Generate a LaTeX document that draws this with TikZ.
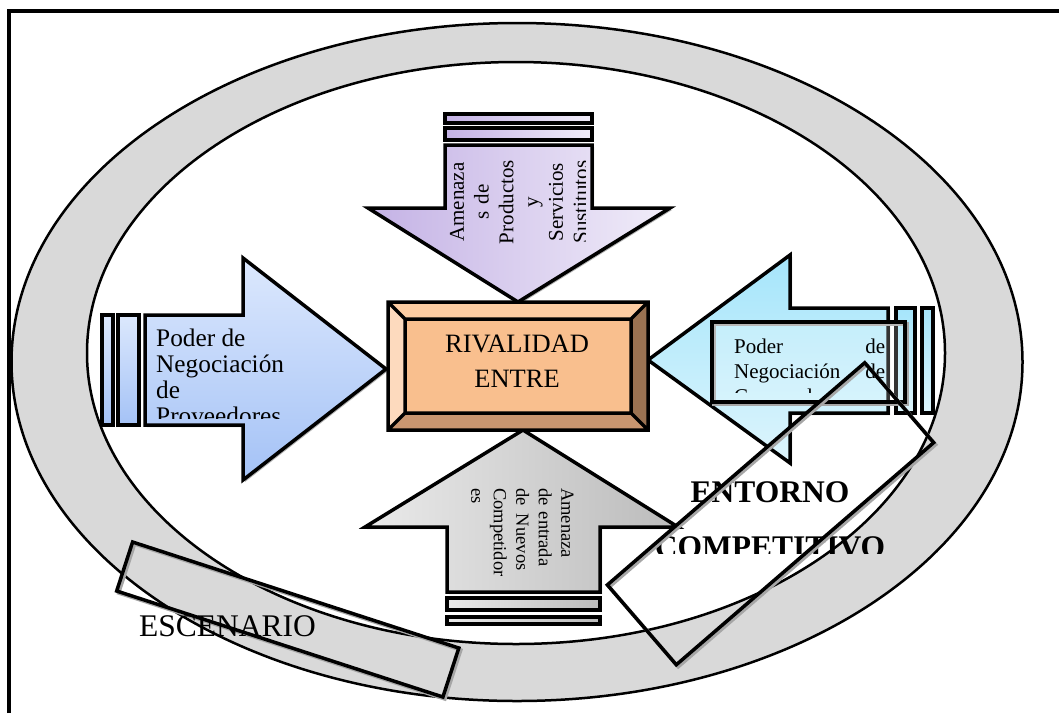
\documentclass[tikz,border=0pt]{standalone}
\usepackage{fontspec}
\setmainfont{Liberation Serif}
\usetikzlibrary{shadows}
\definecolor{ringgray}{HTML}{D9D9D9}
\definecolor{lila1}{HTML}{C4B2E5}
\definecolor{lila2}{HTML}{F1EDF9}
\definecolor{azul1}{HTML}{DCE8FD}
\definecolor{azul2}{HTML}{A4C2F6}
\definecolor{cian1}{HTML}{A5E5FB}
\definecolor{cian2}{HTML}{DDF5FC}
\definecolor{gris1}{HTML}{EAEAEA}
\definecolor{gris2}{HTML}{BBBBBB}
\definecolor{caraface}{HTML}{F9BF8E}
\definecolor{bevtop}{HTML}{FCCCA2}
\definecolor{bevleft}{HTML}{FDDABE}
\definecolor{bevright}{HTML}{9A7252}
\definecolor{bevbottom}{HTML}{C99670}
\tikzset{
  ring/.style={draw=black, line width=2.5pt},
  arrowshape/.style={draw=black, line width=3.5pt,
    drop shadow={shadow xshift=2pt, shadow yshift=-2pt, fill=black!30, opacity=1}},
  framebox/.style={draw=black, line width=3.5pt, inner sep=0pt,
    preaction={draw=black!35, line width=3.5pt, transform canvas={xshift=2pt, yshift=-2pt}}},
  txt/.style={inner sep=0pt, text=black},
}

\begin{document}
\begin{tikzpicture}[x=1pt, y=-1pt]
\useasboundingbox (0,0) rectangle (1059,713);
% marco
\draw[line width=4pt] (9,713) -- (9,10.5) -- (1059,10.5);
% anillo
\draw[ring, fill=ringgray] (517,362) ellipse [x radius=505.5pt, y radius=339pt];
\draw[ring, fill=white] (516,353) ellipse [x radius=429pt, y radius=291pt];

% flecha superior: sustitutos
\foreach \ya/\yb in {114/123, 128/140}
  \draw[arrowshape, left color=lila1, right color=lila2] (445,\ya) rectangle (592,\yb);
\draw[arrowshape, left color=lila1, right color=lila2]
  (445,145) -- (592,145) -- (592,208) -- (670,208) -- (518,302) -- (368,208) -- (445,208) -- cycle;

% flecha izquierda: proveedores
\foreach \xa/\xb in {102/113, 118/139}
  \draw[arrowshape, top color=azul1, bottom color=azul2] (\xa,315) rectangle (\xb,425);
\draw[arrowshape, top color=azul1, bottom color=azul2]
  (145,315) -- (243,315) -- (243,258) -- (386,369) -- (243,480) -- (243,425) -- (145,425) -- cycle;

% flecha derecha: compradores
\foreach \xa/\xb in {896/915, 922/933}
  \draw[arrowshape, top color=cian1, bottom color=cian2] (\xa,308) rectangle (\xb,413);
\draw[arrowshape, top color=cian1, bottom color=cian2]
  (888,308) -- (790,308) -- (790,255) -- (648,360) -- (790,463) -- (790,413) -- (888,413) -- cycle;

% flecha inferior: nuevos competidores
\foreach \ya/\yb in {598/610, 617/624}
  \draw[arrowshape, left color=gris1, right color=gris2] (447,\ya) rectangle (600,\yb);
\draw[arrowshape, left color=gris1, right color=gris2]
  (447,592) -- (447,527) -- (365,527) -- (523,430) -- (678,527) -- (600,527) -- (600,592) -- cycle;

% caja central
\fill[black!30] (390,304) rectangle (650,432);
\fill[bevtop] (388,302) -- (648,302) -- (631,319) -- (405,319) -- cycle;
\fill[bevleft] (388,302) -- (405,319) -- (405,413) -- (388,430) -- cycle;
\fill[bevright] (648,302) -- (648,430) -- (631,413) -- (631,319) -- cycle;
\fill[bevbottom] (388,430) -- (405,413) -- (631,413) -- (648,430) -- cycle;
\fill[caraface] (405,319) rectangle (631,413);
\draw[line width=3.5pt] (388,302) rectangle (648,430) (405,319) rectangle (631,413)
  (388,302) -- (405,319) (648,302) -- (631,319) (388,430) -- (405,413) (648,430) -- (631,413);
\node[txt, anchor=north, align=center, font={\fontsize{26.5}{35}\selectfont}] (rivalidad)
  at (517,334.5) {RIVALIDAD\\ENTRE};

% textos de las flechas
\begin{scope}
  \clip (440,150) rectangle (585,300);
  \node[txt, rotate=90, align=center, text width=95pt, font={\fontsize{21}{24.75}\selectfont}] (sustitutos)
    at (519,202) {Amenaza\\s de\\Productos\\y\\Servicios\\Sustitutos};
\end{scope}
\begin{scope}
  \clip (145,300) rectangle (390,418);
  \node[txt, anchor=north west, align=left, font={\fontsize{25.3}{26}\selectfont}] (proveedores)
    at (156,328.7) {Poder de\\Negociación\\de\\Proveedores};
\end{scope}
\node[txt, rotate=-90, anchor=north west, align=left, text width=89pt, font={\fontsize{18.5}{22.5}\selectfont}] (nuevos)
  at (573.7,488) {Amenaza\\de entrada\\de\hspace{0.45em}Nuevos\\Competidor\\es};

% caja de compradores
\node[framebox, fill=white, fill opacity=0.2, minimum width=193pt, minimum height=80pt] (cajacompradores)
  at (808.5,362) {};
\begin{scope}
  \clip (712,322) rectangle (905,392);
  \node[txt, anchor=north west, align=left, text width=151pt, font={\fontsize{21}{25}\selectfont}] (compradores)
    at (734,338.7) {Poder\hfill de\\Negociación\hfill de\\Compradores};
\end{scope}

% escenario
\node[framebox, rotate=-18, minimum width=343pt, minimum height=51.5pt] (cajaescenario) at (287.75,619.5) {};
\node[txt, anchor=base west, font={\fontsize{31.5}{36}\selectfont}] (escenario) at (139,636) {ESCENARIO};

% entorno competitivo
\begin{scope}
  \clip (600,470) rectangle (950,553);
  \node[txt, anchor=north, align=center, font={\fontsize{31.5}{55}\selectfont\bfseries}] (entorno)
    at (770,481.7) {ENTORNO\\COMPETITIVO};
\end{scope}
\node[framebox, rotate=40.8, minimum width=340pt, minimum height=105.5pt] (cajaentorno) at (770.5,513.75) {};
\end{tikzpicture}
\end{document}
